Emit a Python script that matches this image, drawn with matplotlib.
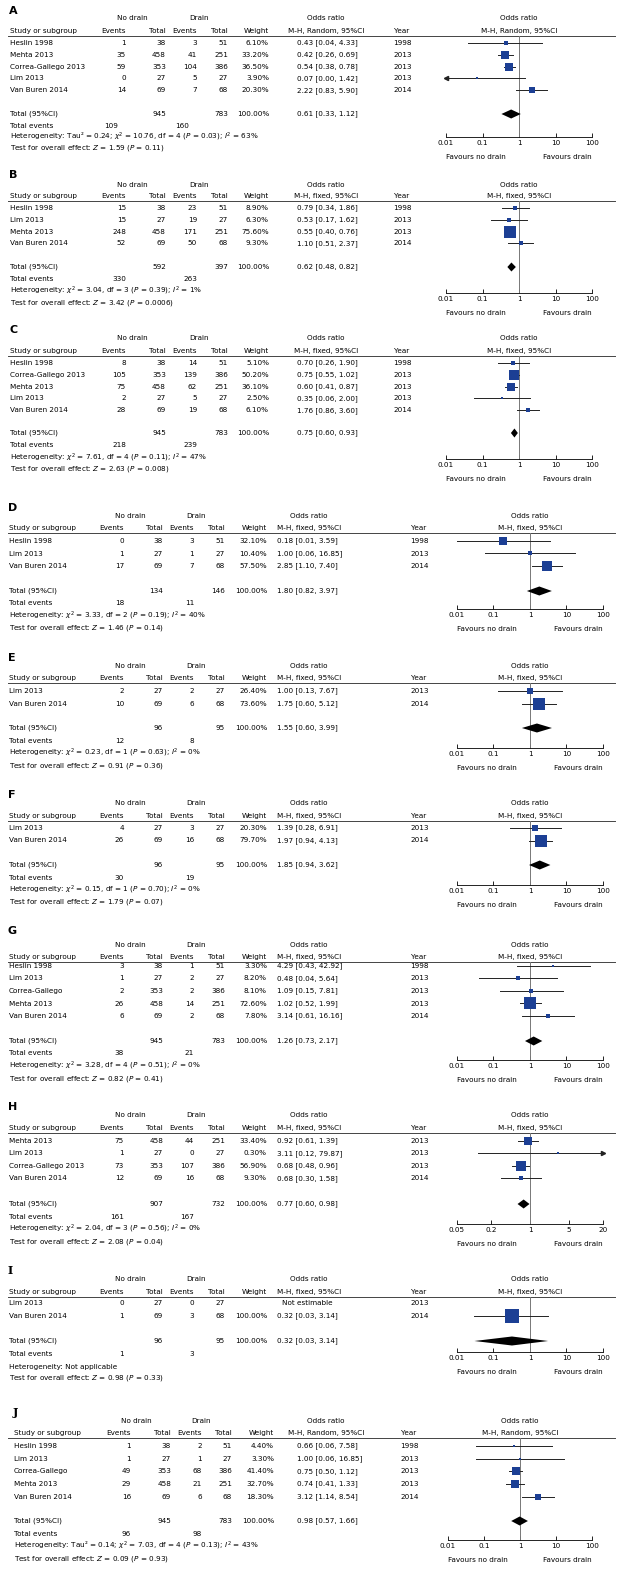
import matplotlib
matplotlib.use("Agg")
import matplotlib.pyplot as plt
import numpy as np

plt.rcParams['font.family'] = ['DejaVu Sans']
plt.rcParams['mathtext.fontset'] = 'dejavusans'

FS = 5.2
BLUE = '#1c3f94'

# ------------------------------------------------------------------ data
A_study = ["Heslin 1998", "Mehta 2013", "Correa-Gallego 2013", "Lim 2013", "Van Buren 2014"]
A_ev_nd = [1, 35, 59, 0, 14]
A_n_nd = [38, 458, 353, 27, 69]
A_ev_d = [3, 41, 104, 5, 7]
A_n_d = [51, 251, 386, 27, 68]
A_weight = [6.10, 33.20, 36.50, 3.90, 20.30]
A_or = [0.43, 0.42, 0.54, 0.07, 2.22]
A_lo = [0.04, 0.26, 0.38, 0.00, 0.83]
A_hi = [4.33, 0.69, 0.78, 1.42, 5.90]
A_year = [1998, 2013, 2013, 2013, 2014]
A_total = [945, 783, 0.61, 0.33, 1.12]
A_events = [109, 160]
A_het = r"Heterogeneity: Tau² = 0.24; $\chi^2$ = 10.76, df = 4 ($P$ = 0.03); $I^2$ = 63%"
A_test = r"Test for overall effect: $Z$ = 1.59 ($P$ = 0.11)"

B_study = ["Heslin 1998", "Lim 2013", "Mehta 2013", "Van Buren 2014"]
B_ev_nd = [15, 15, 248, 52]
B_n_nd = [38, 27, 458, 69]
B_ev_d = [23, 19, 171, 50]
B_n_d = [51, 27, 251, 68]
B_weight = [8.90, 6.30, 75.60, 9.30]
B_or = [0.79, 0.53, 0.55, 1.10]
B_lo = [0.34, 0.17, 0.40, 0.51]
B_hi = [1.86, 1.62, 0.76, 2.37]
B_year = [1998, 2013, 2013, 2014]
B_total = [592, 397, 0.62, 0.48, 0.82]
B_events = [330, 263]
B_het = r"Heterogeneity: $\chi^2$ = 3.04, df = 3 ($P$ = 0.39); $I^2$ = 1%"
B_test = r"Test for overall effect: $Z$ = 3.42 ($P$ = 0.0006)"

C_study = ["Heslin 1998", "Correa-Gallego 2013", "Mehta 2013", "Lim 2013", "Van Buren 2014"]
C_ev_nd = [8, 105, 75, 2, 28]
C_n_nd = [38, 353, 458, 27, 69]
C_ev_d = [14, 139, 62, 5, 19]
C_n_d = [51, 386, 251, 27, 68]
C_weight = [5.10, 50.20, 36.10, 2.50, 6.10]
C_or = [0.70, 0.75, 0.60, 0.35, 1.76]
C_lo = [0.26, 0.55, 0.41, 0.06, 0.86]
C_hi = [1.90, 1.02, 0.87, 2.00, 3.60]
C_year = [1998, 2013, 2013, 2013, 2014]
C_total = [945, 783, 0.75, 0.60, 0.93]
C_events = [218, 239]
C_het = r"Heterogeneity: $\chi^2$ = 7.61, df = 4 ($P$ = 0.11); $I^2$ = 47%"
C_test = r"Test for overall effect: $Z$ = 2.63 ($P$ = 0.008)"

D_study = ["Heslin 1998", "Lim 2013", "Van Buren 2014"]
D_ev_nd = [0, 1, 17]
D_n_nd = [38, 27, 69]
D_ev_d = [3, 1, 7]
D_n_d = [51, 27, 68]
D_weight = [32.10, 10.40, 57.50]
D_or = [0.18, 1.00, 2.85]
D_lo = [0.01, 0.06, 1.10]
D_hi = [3.59, 16.85, 7.40]
D_year = [1998, 2013, 2014]
D_total = [134, 146, 1.80, 0.82, 3.97]
D_events = [18, 11]
D_het = r"Heterogeneity: $\chi^2$ = 3.33, df = 2 ($P$ = 0.19); $I^2$ = 40%"
D_test = r"Test for overall effect: $Z$ = 1.46 ($P$ = 0.14)"

E_study = ["Lim 2013", "Van Buren 2014"]
E_ev_nd = [2, 10]
E_n_nd = [27, 69]
E_ev_d = [2, 6]
E_n_d = [27, 68]
E_weight = [26.40, 73.60]
E_or = [1.00, 1.75]
E_lo = [0.13, 0.60]
E_hi = [7.67, 5.12]
E_year = [2013, 2014]
E_total = [96, 95, 1.55, 0.60, 3.99]
E_events = [12, 8]
E_het = r"Heterogeneity: $\chi^2$ = 0.23, df = 1 ($P$ = 0.63); $I^2$ = 0%"
E_test = r"Test for overall effect: $Z$ = 0.91 ($P$ = 0.36)"

F_study = ["Lim 2013", "Van Buren 2014"]
F_ev_nd = [4, 26]
F_n_nd = [27, 69]
F_ev_d = [3, 16]
F_n_d = [27, 68]
F_weight = [20.30, 79.70]
F_or = [1.39, 1.97]
F_lo = [0.28, 0.94]
F_hi = [6.91, 4.13]
F_year = [2013, 2014]
F_total = [96, 95, 1.85, 0.94, 3.62]
F_events = [30, 19]
F_het = r"Heterogeneity: $\chi^2$ = 0.15, df = 1 ($P$ = 0.70); $I^2$ = 0%"
F_test = r"Test for overall effect: $Z$ = 1.79 ($P$ = 0.07)"

G_study = ["Heslin 1998", "Lim 2013", "Correa-Gallego", "Mehta 2013", "Van Buren 2014"]
G_ev_nd = [3, 1, 2, 26, 6]
G_n_nd = [38, 27, 353, 458, 69]
G_ev_d = [1, 2, 2, 14, 2]
G_n_d = [51, 27, 386, 251, 68]
G_weight = [3.30, 8.20, 8.10, 72.60, 7.80]
G_or = [4.29, 0.48, 1.09, 1.02, 3.14]
G_lo = [0.43, 0.04, 0.15, 0.52, 0.61]
G_hi = [42.92, 5.64, 7.81, 1.99, 16.16]
G_year = [1998, 2013, 2013, 2013, 2014]
G_total = [945, 783, 1.26, 0.73, 2.17]
G_events = [38, 21]
G_het = r"Heterogeneity: $\chi^2$ = 3.28, df = 4 ($P$ = 0.51); $I^2$ = 0%"
G_test = r"Test for overall effect: $Z$ = 0.82 ($P$ = 0.41)"

H_study = ["Mehta 2013", "Lim 2013", "Correa-Gallego 2013", "Van Buren 2014"]
H_ev_nd = [75, 1, 73, 12]
H_n_nd = [458, 27, 353, 69]
H_ev_d = [44, 0, 107, 16]
H_n_d = [251, 27, 386, 68]
H_weight = [33.40, 0.30, 56.90, 9.30]
H_or = [0.92, 3.11, 0.68, 0.68]
H_lo = [0.61, 0.12, 0.48, 0.30]
H_hi = [1.39, 79.87, 0.96, 1.58]
H_year = [2013, 2013, 2013, 2014]
H_total = [907, 732, 0.77, 0.60, 0.98]
H_events = [161, 167]
H_het = r"Heterogeneity: $\chi^2$ = 2.04, df = 3 ($P$ = 0.56); $I^2$ = 0%"
H_test = r"Test for overall effect: $Z$ = 2.08 ($P$ = 0.04)"

I_study = ["Lim 2013", "Van Buren 2014"]
I_ev_nd = [0, 1]
I_n_nd = [27, 69]
I_ev_d = [0, 3]
I_n_d = [27, 68]
I_weight = [None, 100.00]
I_or = [None, 0.32]
I_lo = [None, 0.03]
I_hi = [None, 3.14]
I_year = [2013, 2014]
I_total = [96, 95, 0.32, 0.03, 3.14]
I_events = [1, 3]
I_het = r"Heterogeneity: Not applicable"
I_test = r"Test for overall effect: $Z$ = 0.98 ($P$ = 0.33)"

J_study = ["Heslin 1998", "Lim 2013", "Correa-Gallego", "Mehta 2013", "Van Buren 2014"]
J_ev_nd = [1, 1, 49, 29, 16]
J_n_nd = [38, 27, 353, 458, 69]
J_ev_d = [2, 1, 68, 21, 6]
J_n_d = [51, 27, 386, 251, 68]
J_weight = [4.40, 3.30, 41.40, 32.70, 18.30]
J_or = [0.66, 1.00, 0.75, 0.74, 3.12]
J_lo = [0.06, 0.06, 0.50, 0.41, 1.14]
J_hi = [7.58, 16.85, 1.12, 1.33, 8.54]
J_year = [1998, 2013, 2013, 2013, 2014]
J_total = [945, 783, 0.98, 0.57, 1.66]
J_events = [96, 98]
J_het = r"Heterogeneity: Tau² = 0.14; $\chi^2$ = 7.03, df = 4 ($P$ = 0.13); $I^2$ = 43%"
J_test = r"Test for overall effect: $Z$ = 0.09 ($P$ = 0.93)"

ticks_std = [0.01, 0.1, 1, 10, 100]
ticklabels_std = ["0.01", "0.1", "1", "10", "100"]
ticks_H = [0.05, 0.2, 1, 5, 20]
ticklabels_H = ["0.05", "0.2", "1", "5", "20"]

# ------------------------------------------------------------------ layout (pixels)
COLS1 = dict(study=10, ev_nd=126, n_nd=166, ev_d=197, n_d=228, w=269, orx=297,
             year=393, nd_c=132, d_c=199, orh_c=326, fx0=446, fx1=592)
COLS2 = dict(study=9, ev_nd=124, n_nd=163, ev_d=194, n_d=225, w=267, orx=277,
             year=410, nd_c=130, d_c=196, orh_c=309, fx0=457, fx1=603)
COLS3 = dict(study=14, ev_nd=131, n_nd=171, ev_d=202, n_d=232, w=274, orx=297,
             year=400, nd_c=136, d_c=201, orh_c=326, fx0=448, fx1=592)

panels = [
    dict(key="A", method="Random", cols=COLS1, lab=11, h1=18, h2=31, r0=43, dr=11.8,
         tot=114, tev=126, het=137, test=148, axy=137, tev_dx=-8,
         ticks=ticks_std, tl=ticklabels_std, lim=(0.01, 100)),
    dict(key="B", method="fixed", cols=COLS1, lab=175, h1=185, h2=196, r0=208, dr=11.8,
         tot=267, tev=279, het=291, test=303, axy=293, tev_dx=0,
         ticks=ticks_std, tl=ticklabels_std, lim=(0.01, 100)),
    dict(key="C", method="fixed", cols=COLS1, lab=330, h1=338, h2=351, r0=363, dr=11.8,
         tot=433, tev=445, het=458, test=469, axy=459, tev_dx=0,
         ticks=ticks_std, tl=ticklabels_std, lim=(0.01, 100)),
    dict(key="D", method="fixed", cols=COLS2, lab=508, h1=516, h2=528, r0=541, dr=12.5,
         tot=591, tev=603, het=616, test=628, axy=609, tev_dx=0,
         ticks=ticks_std, tl=ticklabels_std, lim=(0.01, 100)),
    dict(key="E", method="fixed", cols=COLS2, lab=658, h1=666, h2=678, r0=691, dr=12.5,
         tot=728, tev=741, het=753, test=766, axy=748, tev_dx=0,
         ticks=ticks_std, tl=ticklabels_std, lim=(0.01, 100)),
    dict(key="F", method="fixed", cols=COLS2, lab=795, h1=803, h2=816, r0=828, dr=12.5,
         tot=865, tev=878, het=890, test=902, axy=885, tev_dx=0,
         ticks=ticks_std, tl=ticklabels_std, lim=(0.01, 100)),
    dict(key="G", method="fixed", cols=COLS2, lab=931, h1=945, h2=957, r0=966, dr=12.5,
         tot=1041, tev=1053, het=1066, test=1079, axy=1060, tev_dx=0,
         ticks=ticks_std, tl=ticklabels_std, lim=(0.01, 100)),
    dict(key="H", method="fixed", cols=COLS2, lab=1107, h1=1115, h2=1128, r0=1141, dr=12.4,
         tot=1204, tev=1217, het=1229, test=1242, axy=1224, tev_dx=0,
         ticks=ticks_H, tl=ticklabels_H, lim=(0.05, 20)),
    dict(key="I", method="fixed", cols=COLS2, lab=1270, h1=1279, h2=1292, r0=1303, dr=12.5,
         tot=1341, tev=1354, het=1367, test=1378, axy=1352, tev_dx=0,
         ticks=ticks_std, tl=ticklabels_std, lim=(0.01, 100)),
    dict(key="J", method="Random", cols=COLS3, lab=1412, h1=1421, h2=1433, r0=1446, dr=12.7,
         tot=1521, tev=1534, het=1546, test=1559, axy=1540, tev_dx=0,
         ticks=ticks_std, tl=ticklabels_std, lim=(0.01, 100)),
]

data = {}
for k in "ABCDEFGHIJ":
    g = globals()
    data[k] = dict(study=g[k + "_study"], ev_nd=g[k + "_ev_nd"], n_nd=g[k + "_n_nd"],
                   ev_d=g[k + "_ev_d"], n_d=g[k + "_n_d"], w=g[k + "_weight"],
                   orr=g[k + "_or"], lo=g[k + "_lo"], hi=g[k + "_hi"], year=g[k + "_year"],
                   total=g[k + "_total"], events=g[k + "_events"],
                   het=g[k + "_het"], test=g[k + "_test"])

W, H = 624, 1580
fig = plt.figure(figsize=(W / 100, H / 100), dpi=100)
ov = fig.add_axes([0, 0, 1, 1])
ov.set_xlim(0, W)
ov.set_ylim(H, 0)
ov.axis('off')


def t(x, y, s, ha='left', **kw):
    ov.text(x, y, s, ha=ha, va='center', fontsize=kw.pop('fs', FS), **kw)


for p in panels:
    d = data[p["key"]]
    c = p["cols"]
    fam = ['DejaVu Serif'] if p["key"] in "IJ" else ['DejaVu Sans']
    t(c["study"] - 1, p["lab"], p["key"], fs=8, fontweight='bold', family=fam)
    # header row 1
    t(c["nd_c"], p["h1"], "No drain", ha='center')
    t(c["d_c"], p["h1"], "Drain", ha='center')
    t(c["orh_c"], p["h1"], "Odds ratio", ha='center')
    fc = (c["fx0"] + c["fx1"]) / 2
    t(fc, p["h1"], "Odds ratio", ha='center')
    # header row 2
    t(c["study"], p["h2"], "Study or subgroup")
    t(c["ev_nd"], p["h2"], "Events", ha='right')
    t(c["n_nd"], p["h2"], "Total", ha='right')
    t(c["ev_d"], p["h2"], "Events", ha='right')
    t(c["n_d"], p["h2"], "Total", ha='right')
    t(c["w"], p["h2"], "Weight", ha='right')
    mh = "M-H, %s, 95%%CI" % p["method"]
    t(c["orh_c"], p["h2"], mh, ha='center')
    t(c["year"] + 9, p["h2"], "Year", ha='center')
    t(fc, p["h2"], mh, ha='center')
    line_y = p["h2"] + 5
    ov.plot([8, 615], [line_y, line_y], color='#444444', lw=0.7)

    # forest axes
    ax = fig.add_axes([c["fx0"] / W, 1 - p["axy"] / H, (c["fx1"] - c["fx0"]) / W,
                       (p["axy"] - line_y) / H])
    ax.set_xscale('log')
    xmin, xmax = p["lim"]
    ax.set_xlim(xmin, xmax)
    ax.set_ylim(p["axy"], line_y)
    ax.patch.set_alpha(0)
    for s in ['top', 'left', 'right']:
        ax.spines[s].set_visible(False)
    ax.spines['bottom'].set_linewidth(0.6)
    ax.set_yticks([])
    ax.set_xticks(p["ticks"])
    ax.set_xticklabels(p["tl"])
    ax.minorticks_off()
    ax.tick_params(axis='x', direction='in', length=3, width=0.6, labelsize=FS, pad=2.5)
    ax.axvline(1, color='#777777', lw=0.7)

    n = len(d["study"])
    for i in range(n):
        y = p["r0"] + i * p["dr"]
        t(c["study"], y, d["study"][i])
        t(c["ev_nd"], y, str(d["ev_nd"][i]), ha='right')
        t(c["n_nd"], y, str(d["n_nd"][i]), ha='right')
        t(c["ev_d"], y, str(d["ev_d"][i]), ha='right')
        t(c["n_d"], y, str(d["n_d"][i]), ha='right')
        t(c["year"], y, str(d["year"][i]))
        if d["w"][i] is None:
            t(c["orx"] + 30, y, "Not estimable", ha='center')
            continue
        t(c["w"], y, "%.2f%%" % d["w"][i], ha='right')
        t(c["orx"], y, "%.2f [%.2f, %.2f]" % (d["orr"][i], d["lo"][i], d["hi"][i]))
        lo, hi, orr = d["lo"][i], d["hi"][i], d["orr"][i]
        ax.plot([max(lo, xmin), min(hi, xmax)], [y, y], color='#222222', lw=0.7,
                clip_on=False, zorder=2)
        if lo < xmin:
            ax.plot([xmin], [y], marker='<', ms=3, color='#222222', clip_on=False)
        if hi > xmax:
            ax.plot([xmax], [y], marker='>', ms=3, color='#222222', clip_on=False)
        side_px = max(2.6, 1.35 * np.sqrt(d["w"][i]))
        ax.plot([orr], [y], marker='s', ms=side_px * 0.72, color=BLUE, mec=BLUE,
                mew=0, clip_on=False, zorder=3)

    # totals
    T = d["total"]
    y = p["tot"]
    t(c["study"], y, "Total (95%CI)")
    t(c["n_nd"], y, str(T[0]), ha='right')
    t(c["n_d"], y, str(T[1]), ha='right')
    t(c["w"], y, "100.00%", ha='right')
    t(c["orx"], y, "%.2f [%.2f, %.2f]" % (T[2], T[3], T[4]))
    hd = 4.5
    ax.fill([T[3], T[2], T[4], T[2]], [y, y - hd, y, y + hd], color='black',
            clip_on=False, zorder=3, lw=0)
    t(c["study"], p["tev"], "Total events")
    t(c["ev_nd"] + p["tev_dx"], p["tev"], str(d["events"][0]), ha='right')
    t(c["ev_d"] + p["tev_dx"], p["tev"], str(d["events"][1]), ha='right')
    t(c["study"], p["het"], d["het"])
    t(c["study"], p["test"], d["test"])
    # favours
    t(c["fx0"], p["axy"] + 20, "Favours no drain")
    t(c["fx1"], p["axy"] + 20, "Favours drain", ha='right')

fig.savefig("out.png", dpi=100)
